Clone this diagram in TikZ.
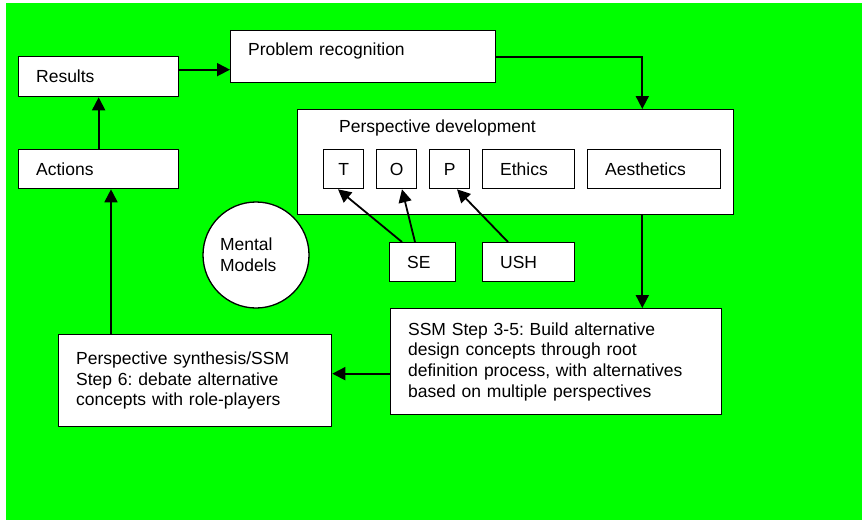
\documentclass[tikz,border=0pt]{standalone}
\usepackage{fontspec}
\setmainfont{Liberation Sans}
\usetikzlibrary{arrows.meta}
\definecolor{bggreen}{RGB}{0,255,0}
\frenchspacing

\begin{document}
\begin{tikzpicture}[x=1pt,y=-1pt,
	every node/.style={font=\fontsize{17.5pt}{20.7pt}\selectfont},
	>={Triangle[length=13pt,width=13pt]},
	box/.style={draw,fill=white,line width=1.3pt,inner xsep=17.5pt,inner ysep=0pt,align=left,anchor=north west},
	tag/.style={draw,fill=white,line width=1.3pt,inner sep=0pt,minimum width=40pt,minimum height=39pt,anchor=north west},
	link/.style={->,line width=1.8pt}]
	% Background
	\useasboundingbox (0,0) rectangle (862,520);
	\fill[bggreen] (6,3) rectangle (862,520);
	% Results and Actions
	\node[box,text width=125pt,minimum height=40pt] (res) at (18,56) {Results};
	\node[box,text width=125pt,minimum height=39pt] (act) at (18,149) {Actions};
	% Problem recognition
	\node[box,text width=230pt,minimum height=52pt,text depth=15pt] (prob) at (230,30) {Problem recognition};
	% Perspective development
	\node[box,minimum width=436pt,minimum height=105pt] (persp) at (297,109) {};
	\node[anchor=west,inner sep=0pt] (persplab) at (339,128) {Perspective development};
	\node[tag] (t) at (323,149) {T};
	\node[tag] (o) at (376,149) {O};
	\node[tag] (p) at (429,149) {P};
	\node[box,text width=57pt,minimum height=39pt] (eth) at (482,149) {Ethics};
	\node[box,text width=98pt,minimum height=39pt] (aes) at (587,149) {Aesthetics};
	% SE and USH
	\node[box,text width=31pt,minimum height=39pt] (se) at (389,242) {SE};
	\node[box,text width=57pt,minimum height=39pt] (ush) at (482,242) {USH};
	% Mental Models
	\node[circle,draw,fill=white,line width=1.3pt,minimum size=106pt,inner sep=0pt,text width=72pt,align=left] (mm) at (256,255) {Mental\\Models};
	% SSM steps
	\node[box,text width=296pt,minimum height=106pt] (ssm) at (390,308) {SSM Step 3-5: Build alternative\\design concepts through root\\definition process, with alternatives\\based on multiple perspectives};
	\node[box,text width=238pt,minimum height=92pt] (syn) at (58,334) {Perspective synthesis/SSM\\Step 6: debate alternative\\concepts with role-players};
	% Arrows
	\draw[link] (act.north) -- (res.south);
	\draw[link] ([yshift=7pt]res.east) -- ([yshift=7pt]res.east -| prob.west);
	\draw[link] (prob.east) -| ([xshift=-92pt]persp.north east);
	\draw[link] ([xshift=-92pt]persp.south east) -- ([xshift=-92pt]persp.south east |- ssm.north);
	\draw[link] ([yshift=-12pt]ssm.west) -- ([yshift=-12pt]ssm.west -| syn.east);
	\draw[link] ([xshift=53pt]syn.north west) -- ([xshift=53pt]syn.north west |- act.south);
	\draw[link] ([xshift=13pt]se.north west) -- ([xshift=15pt]t.south west);
	\draw[link] ([xshift=26pt]se.north west) -- ([xshift=26pt]o.south west);
	\draw[link] ([xshift=26pt]ush.north west) -- ([xshift=28pt]p.south west);
\end{tikzpicture}
\end{document}
